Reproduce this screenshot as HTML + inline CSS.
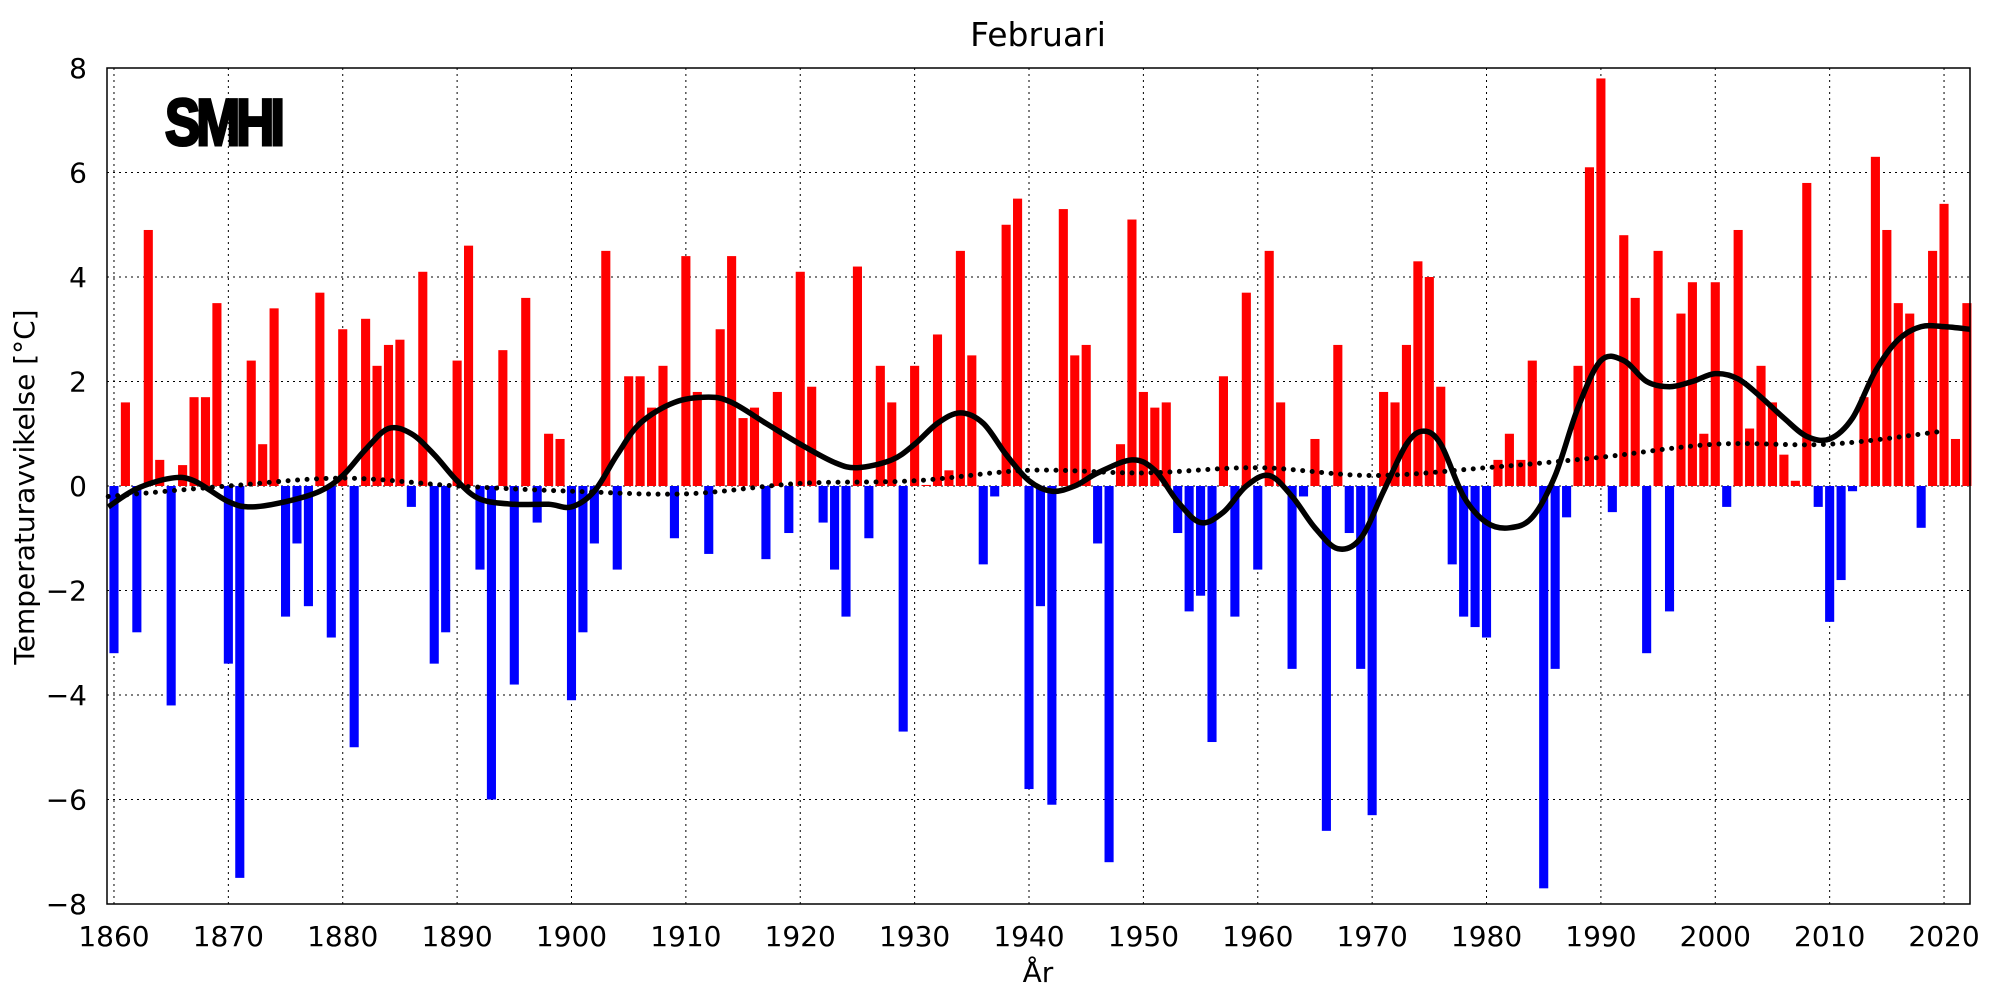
<!DOCTYPE html>
<html><head><meta charset="utf-8"><style>
html,body{margin:0;padding:0;background:#fff;}
svg{display:block;font-family:"DejaVu Sans","Liberation Sans",sans-serif;}
</style></head><body>
<svg id="s" width="2000" height="1000" xmlns="http://www.w3.org/2000/svg"></svg>
<script>
const L=107,R=1970,T=68,B=904;
const x0=1859.39,x1=2022.27;
const X=y=>L+(y-x0)/(x1-x0)*(R-L);
const Y=v=>T+(8-v)/16*(B-T);
const vals=[-3.2,1.6,-2.8,4.9,0.5,-4.2,0.4,1.7,1.7,3.5,-3.4,-7.5,2.4,0.8,3.4,-2.5,-1.1,-2.3,3.7,-2.9,3.0,-5.0,3.2,2.3,2.7,2.8,-0.4,4.1,-3.4,-2.8,2.4,4.6,-1.6,-6.0,2.6,-3.8,3.6,-0.7,1.0,0.9,-4.1,-2.8,-1.1,4.5,-1.6,2.1,2.1,1.5,2.3,-1.0,4.4,1.8,-1.3,3.0,4.4,1.3,1.5,-1.4,1.8,-0.9,4.1,1.9,-0.7,-1.6,-2.5,4.2,-1.0,2.3,1.6,-4.7,2.3,0.02,2.9,0.3,4.5,2.5,-1.5,-0.2,5.0,5.5,-5.8,-2.3,-6.1,5.3,2.5,2.7,-1.1,-7.2,0.8,5.1,1.8,1.5,1.6,-0.9,-2.4,-2.1,-4.9,2.1,-2.5,3.7,-1.6,4.5,1.6,-3.5,-0.2,0.9,-6.6,2.7,-0.9,-3.5,-6.3,1.8,1.6,2.7,4.3,4.0,1.9,-1.5,-2.5,-2.7,-2.9,0.5,1.0,0.5,2.4,-7.7,-3.5,-0.6,2.3,6.1,7.8,-0.5,4.8,3.6,-3.2,4.5,-2.4,3.3,3.9,1.0,3.9,-0.4,4.9,1.1,2.3,1.6,0.6,0.1,5.8,-0.4,-2.6,-1.8,-0.1,1.7,6.3,4.9,3.5,3.3,-0.8,4.5,5.4,0.9,3.5];
let h='';
for(let yr=1860;yr<=2020;yr+=10){h+=`<line x1="${X(yr)}" y1="${T}" x2="${X(yr)}" y2="${B}" stroke="#000" stroke-width="1" stroke-dasharray="2 4"/>`;
h+=`<text x="${X(yr)}" y="946" font-size="28" text-anchor="middle">${yr}</text>`;}
for(let v=-8;v<=8;v+=2){h+=`<line x1="${L}" y1="${Y(v)}" x2="${R}" y2="${Y(v)}" stroke="#000" stroke-width="1" stroke-dasharray="2 4"/>`;
h+=`<text x="${L-20}" y="${Y(v)+10}" font-size="28" text-anchor="end">${v<0?'\u2212'+(-v):v}</text>`;}
const bw=9.1;
vals.forEach((v,i)=>{const yr=1860+i;const y1=Y(Math.max(v,0)),y2=Y(Math.min(v,0));
h+=`<rect x="${X(yr)-bw/2}" y="${y1}" width="${bw}" height="${y2-y1}" fill="${v>=0?'#ff0000':'#0000ff'}"/>`;});
function path(pts){let d=`M${X(pts[0][0])},${Y(pts[0][1])}`;
for(let i=0;i<pts.length-1;i++){const p0=pts[Math.max(i-1,0)],p1=pts[i],p2=pts[i+1],p3=pts[Math.min(i+2,pts.length-1)];
const a=[X(p0[0]),Y(p0[1])],b=[X(p1[0]),Y(p1[1])],c=[X(p2[0]),Y(p2[1])],e=[X(p3[0]),Y(p3[1])];
const c1=[b[0]+(c[0]-a[0])/6,b[1]+(c[1]-a[1])/6],c2=[c[0]-(e[0]-b[0])/6,c[1]-(e[1]-b[1])/6];
d+=`C${c1[0]},${c1[1]} ${c2[0]},${c2[1]} ${c[0]},${c[1]}`;}return d;}
const sm=[[1859.5,-0.4],[1862,-0.05],[1865,0.15],[1867,0.1],[1870,-0.3],[1872,-0.4],[1875,-0.3],[1878,-0.1],[1880,0.2],[1882,0.7],[1884,1.1],[1886,1.0],[1888,0.6],[1890,0.1],[1892,-0.25],[1895,-0.35],[1898,-0.35],[1900,-0.4],[1902,-0.1],[1904,0.6],[1906,1.2],[1909,1.6],[1912,1.7],[1914,1.6],[1917,1.2],[1920,0.8],[1923,0.45],[1925,0.35],[1928,0.5],[1930,0.8],[1932,1.2],[1934,1.4],[1936,1.2],[1938,0.6],[1940,0.1],[1942,-0.1],[1944,0.0],[1946,0.25],[1949,0.5],[1951,0.3],[1953,-0.3],[1955,-0.7],[1957,-0.5],[1959,0.0],[1961,0.2],[1963,-0.2],[1965,-0.8],[1967,-1.2],[1969,-1.0],[1971,-0.1],[1973,0.8],[1974.5,1.05],[1976,0.8],[1978,-0.2],[1980,-0.7],[1982,-0.8],[1984,-0.6],[1986,0.2],[1988,1.5],[1990,2.4],[1992,2.4],[1994,2.0],[1996,1.9],[1998,2.0],[2000,2.15],[2002,2.05],[2004,1.7],[2006,1.3],[2008,0.95],[2010,0.9],[2012,1.3],[2014,2.2],[2016,2.8],[2018,3.05],[2020,3.05],[2022.27,3.0]];
const tr=[[1859.5,-0.2],[1870,0.0],[1880,0.15],[1890,0.0],[1900,-0.1],[1910,-0.15],[1920,0.05],[1930,0.1],[1940,0.3],[1950,0.25],[1960,0.35],[1970,0.2],[1980,0.35],[1990,0.55],[2000,0.8],[2010,0.8],[2020,1.05]];
h+=`<path d="${path(tr)}" fill="none" stroke="#000" stroke-width="5" stroke-linecap="round" stroke-dasharray="0 9.5"/>`;
h+=`<path d="${path(sm)}" fill="none" stroke="#000" stroke-width="5.5" stroke-linejoin="round"/>`;
h+=`<rect x="${L}" y="${T}" width="${R-L}" height="${B-T}" fill="none" stroke="#000" stroke-width="1.5"/>`;
h+=`<text x="1038" y="46" font-size="33" text-anchor="middle">Februari</text>`;
h+=`<text x="1038" y="982" font-size="28" text-anchor="middle">År</text>`;
h+=`<text transform="translate(34,487) rotate(-90)" font-size="28" text-anchor="middle">Temperaturavvikelse [°C]</text>`;
h+=`<text transform="translate(165,145) scale(0.8,1)" font-family="Liberation Sans,sans-serif" font-weight="bold" font-size="66" letter-spacing="-5" stroke="#000" stroke-width="3">SMHI</text>`;
document.getElementById('s').innerHTML=h;
</script>
</body></html>
